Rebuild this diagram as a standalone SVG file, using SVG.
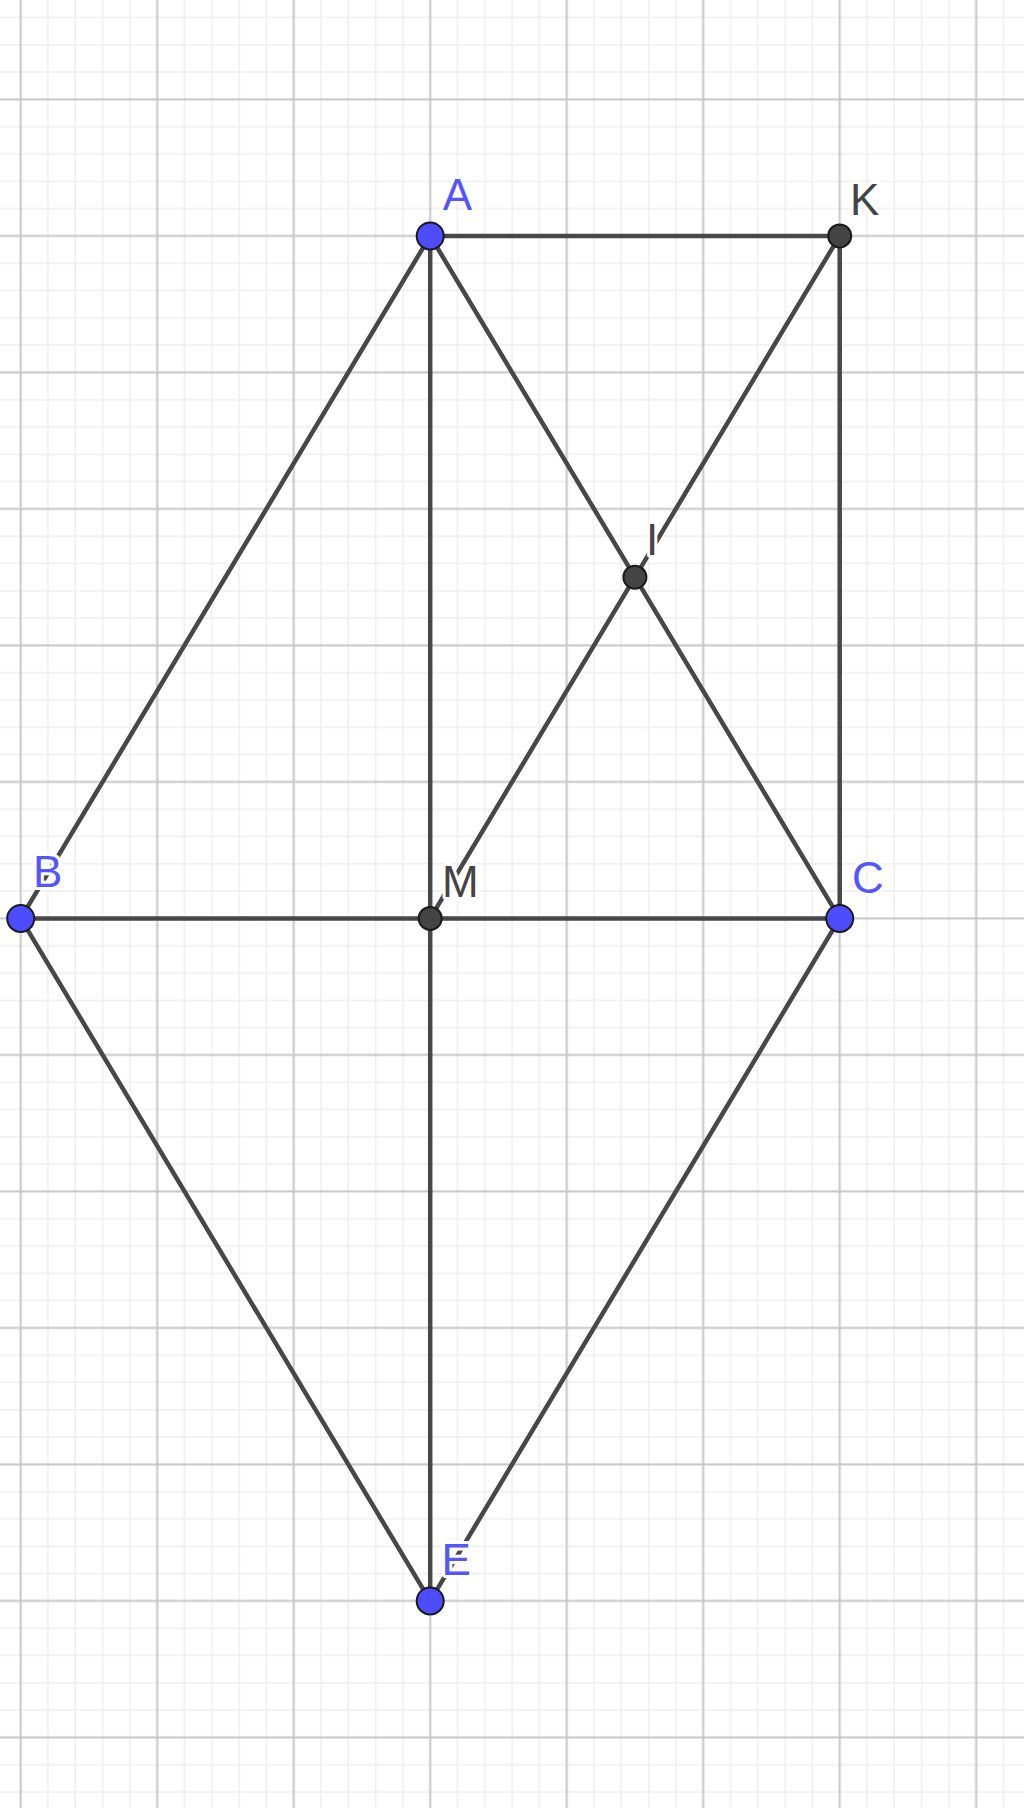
<svg xmlns="http://www.w3.org/2000/svg" width="1024" height="1808" viewBox="0 0 1024 1808">
<defs>
<pattern id="grid" patternUnits="userSpaceOnUse" x="-47.55" y="31.15" width="136.5" height="136.5">
<path d="M13.65 0V136.5M40.95 0V136.5M95.55 0V136.5M122.85 0V136.5M0 13.65H136.5M0 40.95H136.5M0 95.55H136.5M0 122.85H136.5" stroke="#eeeeee" stroke-width="1.5" fill="none"/>
<path d="M68.25 0V136.5M0 68.25H136.5" stroke="#c6c6c6" stroke-width="2" fill="none"/>
</pattern>
<style>
.seg{stroke:#474747;stroke-width:4.5;stroke-linecap:round;fill:none}
.free{fill:#4d4dff;stroke:#1a1a1a;stroke-width:2}
.dep{fill:#444444;stroke:#1a1a1a;stroke-width:2}
.lbl{font-family:"Liberation Sans",Arial,sans-serif;font-size:44px;stroke:#ffffff;stroke-width:6;stroke-linejoin:round;paint-order:stroke}
.blue{fill:#5555ff}
.dark{fill:#444444}
</style>
</defs>
<rect width="1024" height="1808" fill="#ffffff"/>
<rect width="1024" height="1808" fill="url(#grid)"/>
<g id="connectors">
<line class="seg" x1="430.2" y1="235.9" x2="839.7" y2="235.9"/>
<line class="seg" x1="430.2" y1="235.9" x2="20.7" y2="918.4"/>
<line class="seg" x1="430.2" y1="235.9" x2="430.2" y2="1600.9"/>
<line class="seg" x1="430.2" y1="235.9" x2="839.7" y2="918.4"/>
<line class="seg" x1="839.7" y1="235.9" x2="839.7" y2="918.4"/>
<line class="seg" x1="839.7" y1="235.9" x2="430.2" y2="918.4"/>
<line class="seg" x1="20.7" y1="918.4" x2="839.7" y2="918.4"/>
<line class="seg" x1="20.7" y1="918.4" x2="430.2" y2="1600.9"/>
<line class="seg" x1="839.7" y1="918.4" x2="430.2" y2="1600.9"/>
</g>
<g id="A"><circle class="free" cx="430.2" cy="235.9" r="13.5"/><text class="lbl blue" x="442.7" y="210">A</text></g>
<g id="K"><circle class="dep" cx="839.7" cy="235.9" r="11.5"/><text class="lbl dark" x="850" y="215">K</text></g>
<g id="I"><circle class="dep" cx="634.9" cy="577.2" r="11.5"/><text class="lbl dark" x="646" y="555">I</text></g>
<g id="B"><circle class="free" cx="20.7" cy="918.4" r="13.5"/><text class="lbl blue" x="33" y="887">B</text></g>
<g id="M"><circle class="dep" cx="430.2" cy="918.4" r="11.5"/><text class="lbl dark" x="442" y="897">M</text></g>
<g id="C"><circle class="free" cx="839.7" cy="918.4" r="13.5"/><text class="lbl blue" x="852" y="893">C</text></g>
<g id="E"><circle class="free" cx="430.2" cy="1600.9" r="13.5"/><text class="lbl blue" x="441.6" y="1575">E</text></g>
</svg>
